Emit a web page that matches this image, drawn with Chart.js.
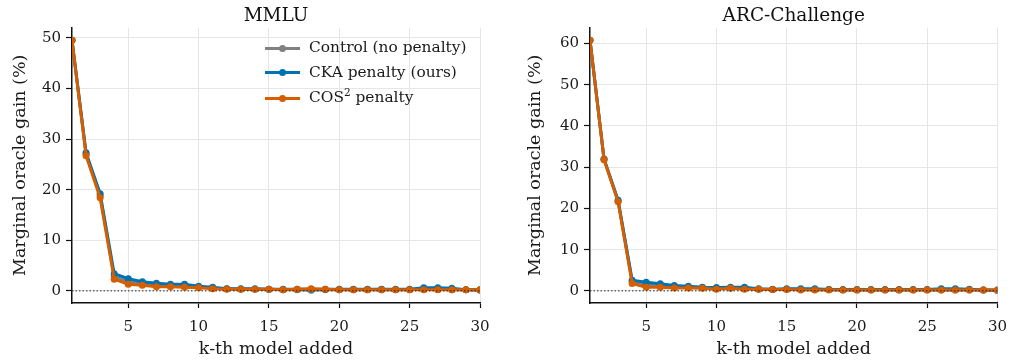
<!DOCTYPE html>
<html><head><meta charset="utf-8">
<script src="https://cdn.jsdelivr.net/npm/chart.js@4"></script>
<style>
html,body{margin:0;padding:0;background:#fff;}
#wrap{position:relative;width:1011px;height:360px;overflow:hidden;}
#c1{position:absolute;left:0;top:0;}
#c2{position:absolute;left:510px;top:0;}
.lg{position:absolute;font-family:'DejaVu Serif',serif;font-size:15.4px;color:#1a1a1a;white-space:nowrap;}
.lg .sw{position:absolute;left:0;top:50%;width:35px;height:3px;margin-top:-1.5px;}
.lg .dot{position:absolute;left:14px;top:50%;width:7px;height:7px;margin-top:-3.5px;border-radius:50%;}
.lg .tx{position:absolute;left:44px;top:50%;transform:translateY(-50%);line-height:1;}
.lg sup{font-size:10.5px;vertical-align:6px;line-height:0;}
</style>
</head><body>
<div id="wrap">
<canvas id="c1" width="510" height="360"></canvas>
<canvas id="c2" width="507" height="360"></canvas>
</div>
<script>
// ---- data ----
const kValues = [1,2,3,4,5,6,7,8,9,10,11,12,13,14,15,16,17,18,19,20,21,22,23,24,25,26,27,28,29,30];
const xTickValues = [5,10,15,20,25,30];
const mmluTicks = [0,10,20,30,40,50];
const arcTicks = [0,10,20,30,40,50,60];
const seriesLabels = ['Control (no penalty)', 'CKA penalty (ours)', 'COS² penalty'];
const legendHtml = ['Control (no penalty)', 'CKA penalty (ours)', 'COS<sup>2</sup> penalty'];
const seriesColors = ['#808080', '#0072B2', '#D55E00'];

const mmluControl = [49.5,27.0,18.8,2.8,1.8,1.4,1.1,1.0,0.9,0.8,0.5,0.4,0.3,0.3,0.3,0.2,0.2,0.1,0.2,0.2,0.2,0.2,0.2,0.2,0.2,0.3,0.3,0.2,0.2,0.1];
const mmluCKA     = [49.5,27.3,19.2,3.4,2.4,1.8,1.5,1.3,1.3,0.9,0.7,0.4,0.4,0.4,0.3,0.3,0.3,0.3,0.3,0.3,0.3,0.3,0.3,0.3,0.3,0.6,0.6,0.5,0.2,0.2];
const mmluCOS     = [49.5,26.7,18.4,2.3,1.3,1.1,0.8,0.8,0.7,0.6,0.4,0.3,0.3,0.3,0.3,0.2,0.3,0.4,0.3,0.2,0.2,0.2,0.2,0.2,0.2,0.2,0.2,0.2,0.2,0.2];

const arcControl = [60.8,31.9,21.8,2.2,1.5,1.3,1.0,0.9,0.8,0.6,0.7,0.7,0.4,0.3,0.4,0.3,0.3,0.3,0.2,0.2,0.2,0.2,0.2,0.2,0.2,0.2,0.2,0.2,0.2,0.1];
const arcCKA     = [60.8,32.0,22.0,2.6,2.1,1.7,1.3,1.1,0.9,0.8,0.9,0.9,0.5,0.4,0.5,0.5,0.5,0.3,0.3,0.3,0.3,0.3,0.3,0.3,0.3,0.5,0.5,0.4,0.2,0.2];
const arcCOS     = [60.8,31.8,21.6,1.8,0.9,0.9,0.7,0.7,0.6,0.4,0.6,0.4,0.4,0.3,0.3,0.2,0.2,0.2,0.2,0.2,0.2,0.2,0.2,0.2,0.2,0.2,0.2,0.2,0.2,0.2];

const zeroLine = [0, 0];
const zeroLineX = [1, 30];

// ---- chart ----
Chart.defaults.font.family = "'DejaVu Serif', serif";
Chart.defaults.color = '#1a1a1a';

function pts(vals){ return vals.map((v,i)=>({x:kValues[i], y:v})); }

function makeChart(canvas, title, series, yMin, yMax, yTicks, yAxisWidth, yTitlePad, rightPad){
  const datasets = series.map((vals, i) => ({
    label: seriesLabels[i],
    data: pts(vals),
    borderColor: seriesColors[i],
    backgroundColor: seriesColors[i],
    borderWidth: 3,
    pointRadius: 3.5,
    pointBorderWidth: 0,
    pointHoverRadius: 3.5,
    tension: 0,
    order: 3 - i
  }));
  datasets.push({
    label: 'zero',
    data: zeroLineX.map((x,i)=>({x:x, y:zeroLine[i]})),
    borderColor: '#222',
    borderWidth: 1,
    borderDash: [1.5, 2],
    pointRadius: 0,
    order: 0
  });
  return new Chart(canvas, {
    type: 'line',
    data: { datasets },
    options: {
      responsive: false,
      animation: false,
      layout: { padding: { left: 0, right: rightPad, top: 0, bottom: 0 } },
      plugins: {
        legend: { display: false },
        tooltip: { enabled: false },
        title: {
          display: true, text: title, color: '#111', fullSize: false,
          font: { size: 18.5, weight: 'normal' },
          padding: { top: 5.5, bottom: 0 }
        }
      },
      scales: {
        x: {
          type: 'linear', min: 1, max: 30,
          afterBuildTicks: (s) => { s.ticks = xTickValues.map(v => ({ value: v })); },
          afterFit: (s) => { s.height = 57; },
          grid: { color: '#e6e6e6', lineWidth: 1, tickColor: '#111', tickLength: 5, tickWidth: 1.2 },
          border: { display: true, color: '#111', width: 1.5 },
          ticks: { font: { size: 15 }, color: '#1a1a1a', padding: 10, maxRotation: 0 },
          title: { display: true, text: 'k-th model added', font: { size: 17.5 }, color: '#1a1a1a', padding: { top: 0, bottom: 0 } }
        },
        y: {
          type: 'linear', min: yMin, max: yMax,
          afterBuildTicks: (s) => { s.ticks = yTicks.map(v => ({ value: v })); },
          afterFit: (s) => { s.width = yAxisWidth; },
          grid: { color: '#e6e6e6', lineWidth: 1, tickColor: '#111', tickLength: 6, tickWidth: 1.2 },
          border: { display: true, color: '#111', width: 1.5 },
          ticks: { font: { size: 15 }, color: '#1a1a1a', padding: 5 },
          title: { display: true, text: 'Marginal oracle gain (%)', font: { size: 17.5 }, color: '#1a1a1a', padding: { top: yTitlePad, bottom: 0 } }
        }
      }
    }
  });
}

makeChart(document.getElementById('c1'), 'MMLU', [mmluControl, mmluCKA, mmluCOS], -2.4, 52.0, mmluTicks, 72, 9.5, 30);
makeChart(document.getElementById('c2'), 'ARC-Challenge', [arcControl, arcCKA, arcCOS], -2.95, 63.85, arcTicks, 80, 14.5, 0);

// ---- legend (real text) ----
const legendRowsY = [48, 72.5, 98];
const wrap = document.getElementById('wrap');
legendHtml.forEach((html, i) => {
  const row = document.createElement('div');
  row.className = 'lg';
  row.style.left = '265px';
  row.style.top = (legendRowsY[i] - 10) + 'px';
  row.style.height = '20px';
  row.style.width = '230px';
  row.innerHTML = '<div class="sw" style="background:' + seriesColors[i] + '"></div>' +
                  '<div class="dot" style="background:' + seriesColors[i] + '"></div>' +
                  '<div class="tx">' + html + '</div>';
  wrap.appendChild(row);
});
</script>
</body></html>
